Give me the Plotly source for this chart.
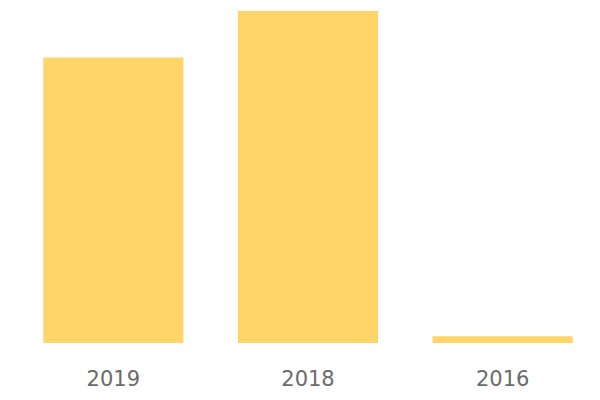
import plotly.graph_objects as go

categories = ["2019", "2018", "2016"]
values = [43, 50, 1]

fig = go.Figure(go.Bar(x=categories, y=values, marker=dict(color="#FFD56A", line=dict(width=0))))
fig.update_layout(
    width=600, height=400,
    margin=dict(l=7.5, r=7.5, t=3, b=65, pad=0),
    paper_bgcolor="white", plot_bgcolor="white",
    bargap=0.28,
    showlegend=False,
    font=dict(family="DejaVu Sans, sans-serif", size=21, color="#666666"),
)
fig.update_xaxes(type="category", showgrid=False, zeroline=False, showline=False,
                 ticks="outside", ticklen=17, tickcolor="rgba(0,0,0,0)",
                 tickfont=dict(family="DejaVu Sans, sans-serif", size=21, color="#6b6b6b"))
fig.update_yaxes(visible=False, range=[0, 50], showgrid=False, zeroline=False)
fig.write_html("out.html")
